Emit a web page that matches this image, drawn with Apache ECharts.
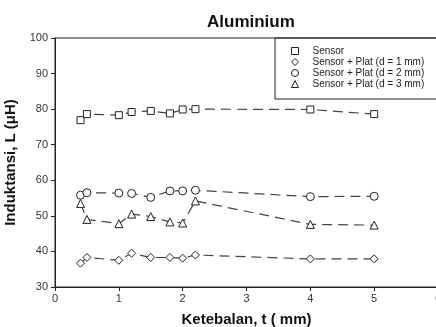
<!DOCTYPE html>
<html><head><meta charset="utf-8">
<script src="https://cdn.jsdelivr.net/npm/echarts@6/dist/echarts.min.js"></script>
<style>html,body{margin:0;padding:0;background:#fff}#c{width:436px;height:327px}</style>
</head><body><div id="c"></div>
<script>
const thickness = [0.4, 0.5, 1.0, 1.2, 1.5, 1.8, 2.0, 2.2, 4.0, 5.0];
const sensor = [76.9, 78.6, 78.3, 79.2, 79.5, 78.8, 79.9, 80.0, 79.9, 78.6];
const plat1mm = [36.7, 38.3, 37.5, 39.5, 38.3, 38.3, 38.1, 39.0, 37.9, 37.9];
const plat2mm = [55.8, 56.5, 56.4, 56.3, 55.2, 57.0, 57.0, 57.2, 55.4, 55.5];
const plat3mm = [53.5, 49.0, 47.8, 50.5, 49.8, 48.3, 48.0, 54.2, 47.6, 47.4];
const seriesNames = ['Sensor', 'Sensor + Plat (d = 1 mm)', 'Sensor + Plat (d = 2 mm)', 'Sensor + Plat (d = 3 mm)'];
const symbols = ['rect', 'diamond', 'circle', 'triangle'];
const values = [sensor, plat1mm, plat2mm, plat3mm];

const chart = echarts.init(document.getElementById('c'));
const font = 'Liberation Sans, Arial, sans-serif';
const hollow = {color: '#fff', borderColor: '#222', borderWidth: 1};
chart.setOption({
  animation: false,
  backgroundColor: '#fff',
  title: {
    text: 'Aluminium', left: 202, top: 9,
    textStyle: {fontFamily: font, fontSize: 17, fontWeight: 'bold', color: '#111'}
  },
  legend: {
    left: 275, top: 38, orient: 'vertical',
    padding: [8, 40, 10, 16],
    itemGap: 1, itemWidth: 7, itemHeight: 7,
    borderColor: '#222', borderWidth: 1,
    itemStyle: hollow,
    textStyle: {fontFamily: font, fontSize: 10, color: '#222', padding: [0, 0, 0, 9]},
    data: seriesNames.map((n, i) => ({name: n, icon: symbols[i], itemStyle: hollow}))
  },
  grid: {left: 55, top: 38, right: -2, bottom: 40, containLabel: false, outerBoundsMode: 'none',
    show: true, borderColor: '#222', borderWidth: 1},
  xAxis: {
    type: 'value', min: 0, max: 6, interval: 1,
    name: 'Ketebalan, t ( mm)', nameLocation: 'middle', nameGap: 25,
    nameTextStyle: {fontFamily: font, fontSize: 15, fontWeight: 'bold', color: '#111'},
    axisLine: {show: true, lineStyle: {color: '#222'}},
    axisTick: {show: true, length: 4, lineStyle: {color: '#222'}},
    axisLabel: {fontFamily: font, fontSize: 11, color: '#333', margin: 6},
    splitLine: {show: false}
  },
  yAxis: {
    type: 'value', min: 30, max: 100, interval: 10,
    name: 'Induktansi, L (\u03bcH)', nameLocation: 'middle', nameGap: 26,
    nameTextStyle: {fontFamily: font, fontSize: 15, fontWeight: 'bold', color: '#111'},
    axisLine: {show: true, lineStyle: {color: '#222'}},
    axisTick: {show: true, length: 4, lineStyle: {color: '#222'}},
    axisLabel: {fontFamily: font, fontSize: 11, color: '#333', margin: 7},
    splitLine: {show: false}
  },
  series: values.map((v, i) => ({
    name: seriesNames[i], type: 'line',
    data: thickness.map((t, j) => [t, v[j]]),
    symbol: symbols[i], symbolSize: symbols[i] === 'rect' ? 7 : 8,
    showSymbol: true,
    lineStyle: {color: '#444', width: 1.2, type: [10, 6]},
    itemStyle: hollow
  }))
});
</script></body></html>
